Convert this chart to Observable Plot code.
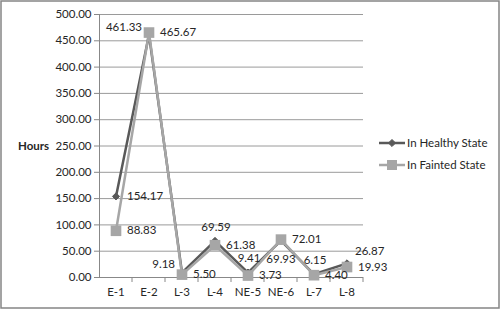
<!DOCTYPE html>
<html><head><meta charset="utf-8">
<script src="https://cdn.jsdelivr.net/npm/d3@7"></script>
<script src="https://cdn.jsdelivr.net/npm/@observablehq/plot@0.6"></script>
<style>body{margin:0;background:#fff} svg{display:block}</style>
</head><body><div id="chart"></div>
<script>
const categories = ["E-1","E-2","L-3","L-4","NE-5","NE-6","L-7","L-8"];
const healthy = [154.17,461.33,9.18,69.59,9.41,69.93,6.15,26.87];
const fainted = [88.83,465.67,5.50,61.38,3.73,72.01,4.40,19.93];
const seriesNames = ["In Healthy State","In Fainted State"];
const yTicks = [0,50,100,150,200,250,300,350,400,450,500];
const yLabel = "Hours";
// label placement codes for each data label
const healthyPlace = ["R","NW","NW","N","N","S","N","NE"];
const faintedPlace = ["R","R","R","R","R","R","R","R"];

const placeStyle = {
  R:  {textAnchor:"start",  dx:11, dy:0},
  NW: {textAnchor:"end",    dx:-7, dy:-8},
  N:  {textAnchor:"middle", dx:1,  dy:-14},
  S:  {textAnchor:"middle", dx:0,  dy:19},
  NE: {textAnchor:"start",  dx:8,  dy:-12}
};
const colors = ["#595959","#a6a6a6"];

const data = [];
categories.forEach((c,i)=>{
  data.push({cat:c, series:seriesNames[0], v:healthy[i], place:healthyPlace[i]});
});
categories.forEach((c,i)=>{
  data.push({cat:c, series:seriesNames[1], v:fainted[i], place:faintedPlace[i]});
});

const labelMarks = Object.entries(placeStyle).map(([code,st]) =>
  Plot.text(data.filter(d=>d.place===code), {
    x:"cat", y:"v", text:d=>d.v.toFixed(2),
    textAnchor:st.textAnchor, dx:st.dx, dy:st.dy,
    fill:"#262626", fontSize:11.5
  })
);

const chart = Plot.plot({
  width:500, height:309,
  marginLeft:99, marginRight:137, marginTop:14, marginBottom:32,
  style:{fontFamily:"Lato, 'Open Sans', sans-serif", fontSize:"11.5px", color:"#262626", background:"#fff"},
  x:{type:"band", domain:categories, padding:0, label:null},
  y:{domain:[0,500], label:null},
  marks:[
    Plot.gridY(yTicks,{stroke:"#9a9a9a", strokeOpacity:1}),
    Plot.axisY(yTicks,{tickFormat:d=>d.toFixed(2), tickSize:5, tickPadding:3, stroke:"#888", label:null}),
    Plot.axisX({tickSize:0, tickPadding:10, label:null}),
    Plot.frame({anchor:"left", stroke:"#888"}),
    Plot.ruleY([0],{stroke:"#888"}),
    Plot.line(data.filter(d=>d.series===seriesNames[0]),{x:"cat", y:"v", stroke:colors[0], strokeWidth:2.5}),
    Plot.dot(data.filter(d=>d.series===seriesNames[0]),{x:"cat", y:"v", symbol:"diamond2", r:3.2, fill:colors[0], stroke:colors[0], strokeWidth:1}),
    Plot.line(data.filter(d=>d.series===seriesNames[1]),{x:"cat", y:"v", stroke:colors[1], strokeWidth:2.5}),
    Plot.dot(data.filter(d=>d.series===seriesNames[1]),{x:"cat", y:"v", symbol:"square", r:6, fill:colors[1], stroke:"none"}),
    ...labelMarks
  ]
});
document.getElementById("chart").appendChild(chart);

const svg = d3.select(chart);
const xs = chart.scale("x");
const ys = chart.scale("y");
const bw = xs.bandwidth;
// boundary tick marks on x axis
const y0 = ys.apply(0);
const g = svg.append("g");
categories.forEach((c,i)=>{
  const x = xs.apply(c) + bw;
  g.append("line").attr("x1",x).attr("x2",x).attr("y1",y0).attr("y2",y0+5).attr("stroke","#888");
});
// y label
svg.append("text").attr("x",18).attr("y",ys.apply(250)).attr("dy","0.35em").attr("text-anchor","start")
  .attr("font-weight","bold").attr("font-size","11.5px").attr("fill","#262626").text(yLabel);
// legend
const lg = svg.append("g").attr("font-size","11.5px").attr("fill","#262626").attr("text-anchor","start");
seriesNames.forEach((name,i)=>{
  const yy = 143 + i*22;
  lg.append("line").attr("x1",379).attr("x2",405).attr("y1",yy).attr("y2",yy).attr("stroke",colors[i]).attr("stroke-width",2.5);
  if(i===0){
    lg.append("path").attr("d",d3.symbol(d3.symbolDiamond2, 3.2*3.2*Math.PI)()).attr("transform",`translate(392,${yy})`).attr("fill",colors[0]).attr("stroke",colors[0]);
  } else {
    lg.append("rect").attr("x",387).attr("y",yy-5).attr("width",10).attr("height",10).attr("fill",colors[1]);
  }
  lg.append("text").attr("x",407).attr("y",yy).attr("dy","0.35em").text(name);
});
// outer border
svg.append("rect").attr("x",1).attr("y",1).attr("width",498).attr("height",307)
  .attr("fill","none").attr("stroke","#858585").attr("stroke-width",1.5);
</script></body></html>
